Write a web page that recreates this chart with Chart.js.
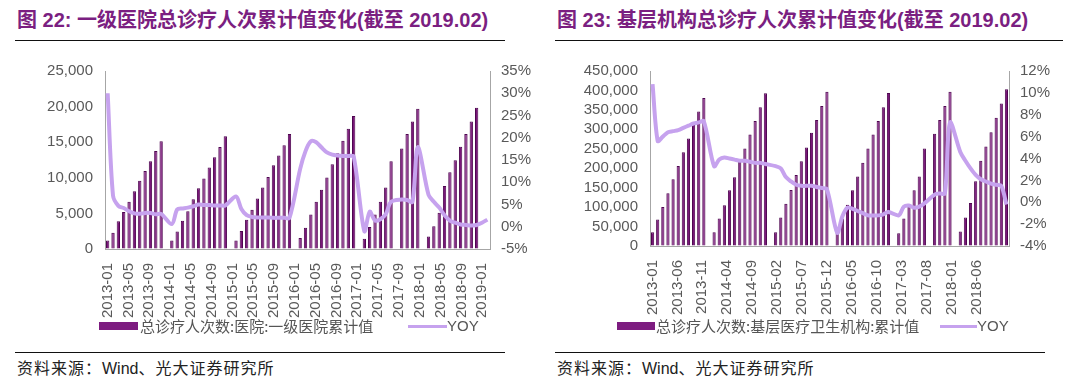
<!DOCTYPE html>
<html>
<head>
<meta charset="utf-8">
<script src="https://cdn.jsdelivr.net/npm/chart.js@4.4.1/dist/chart.umd.min.js"></script>
<style>
body { margin: 0; background: #fff; }
#page { position: relative; width: 1078px; height: 387px; overflow: hidden; font-family: "Noto Sans CJK SC", sans-serif; }
.title { position: absolute; top: 6px; line-height: 28px; font-size: 20px; font-weight: 700; color: #7B1F81; white-space: nowrap; font-family: "Liberation Sans", "Noto Sans CJK SC", sans-serif; }
.rule { position: absolute; height: 1px; background: #111; }
.source { position: absolute; top: 356px; line-height: 22px; font-size: 16px; color: #222; white-space: nowrap; letter-spacing: 1px; }
.source b { font-family: "Liberation Sans", sans-serif; font-weight: 400; letter-spacing: 0; }
.lg { position: absolute; top: 315px; line-height: 22px; font-size: 15px; color: #555; white-space: nowrap; }
.yoy { font-family: "Liberation Sans", sans-serif; }
.box { position: absolute; top: 322px; height: 8px; background: #7D1C80; }
.ln { position: absolute; top: 325px; height: 3px; background: #C6A2EE; }
canvas { position: absolute; top: 50px; }
</style>
</head>
<body>
<div id="page">
  <div class="title" style="left:17px">图 22: 一级医院总诊疗人次累计值变化(截至 2019.02)</div>
  <div class="rule" style="left:15px; top:40px; width:490px"></div>
  <div class="title" style="left:557px">图 23: 基层机构总诊疗人次累计值变化(截至 2019.02)</div>
  <div class="rule" style="left:555px; top:40px; width:508px"></div>

  <canvas id="chartHospital" width="540" height="270" style="left:0px"></canvas>
  <canvas id="chartPrimary" width="538" height="270" style="left:540px"></canvas>

  <div class="box" style="left:99px; width:39px"></div>
  <div class="lg" style="left:140px">总诊疗人次数:医院:一级医院累计值</div>
  <div class="ln" style="left:408px; width:39px"></div>
  <div class="lg yoy" style="left:447px">YOY</div>

  <div class="box" style="left:617px; width:38px"></div>
  <div class="lg" style="left:656px">总诊疗人次数:基层医疗卫生机构:累计值</div>
  <div class="ln" style="left:940px; width:37px"></div>
  <div class="lg yoy" style="left:977px">YOY</div>

  <div class="rule" style="left:15px; top:352px; width:490px"></div>
  <div class="source" style="left:17px">资料来源：<b>Wind</b>、光大证券研究所</div>
  <div class="rule" style="left:555px; top:352px; width:490px"></div>
  <div class="source" style="left:557px">资料来源：<b>Wind</b>、光大证券研究所</div>
</div>

<script>
// monthly categories, 2013-01 onwards
function monthList(startYear, count) {
    var out = [];
    for (var i = 0; i < count; i++) {
        var y = startYear + Math.floor(i / 12);
        var m = (i % 12) + 1;
        out.push(y + '-' + (m < 10 ? '0' + m : m));
    }
    return out;
}

// chart 22: 一级医院 (bars on 2013-01..2018-12, axis labels on 2013-01..2019-02)
var hospitalMonths = monthList(2013, 72);
var hospitalTickMonths = monthList(2013, 74);
var hospitalVisits = [
    1200, 2270, 3880, 5210, 6640, 8110, 9590, 10960, 12340, 13770, 15150, null,
    1200, 2450, 3970, 5310, 6990, 8520, 9890, 11460, 12880, 14310, 15820, null,
    1200, 2540, 4100, 5520, 7090, 8650, 10120, 11770, 13140, 14570, 16140, null,
    1560, 2980, 4850, 6640, 8330, 10030, 11900, 13460, 15200, 16890, 18680, null,
    1430, 3080, 4850, 6650, 8650, 12340, null, 14130, 16140, 17920, 19690, null,
    1740, 3210, 5080, 8860, 10790, 12470, 14350, 16140, 17920, 19830, null, null
];
var hospitalYoy = [
    30.0, 7.0, 4.7, 4.2, 3.5, 3.0, 2.9, 3.1, 3.1, 2.8, 2.9, null,
    0.6, 3.9, 4.1, 4.3, 4.6, 5.0, 4.9, 4.9, 4.8, 4.8, 4.8, null,
    6.8, 4.0, 2.6, 2.2, 2.1, 2.1, 2.1, 2.0, 2.0, 2.0, 2.0, null,
    13.0, 17.0, 19.2, 19.0, 17.8, 16.7, 16.2, 16.0, 15.9, 15.9, 15.8, null,
    -1.0, 3.4, 1.4, 1.7, 2.8, 5.6, null, 6.1, 6.0, 5.6, 17.9, null,
    7.2, 5.6, 4.3, 2.6, 1.4, 0.9, 0.5, 0.4, 0.3, 0.4, 0.9, 1.6
];

// chart 23: 基层医疗卫生机构 (bars on 2013-01..2018-10, axis labels on 2013-01..2018-12)
var primaryMonths = monthList(2013, 70);
var primaryTickMonths = monthList(2013, 72);
var primaryVisits = [
    35100, 68000, 100600, 135700, 171800, 205400, 241300, 276600, 311000, 346100, 380500, null,
    35100, 70400, 104800, 143100, 176700, 216700, 250400, 286500, 321600, 356600, 392700, null,
    35100, 73600, 108700, 144000, 182400, 217700, 253600, 291400, 324000, 360000, 396900, null,
    36000, 71000, 106300, 143100, 178500, 214300, 250400, 286500, 321600, 356600, 393500, null,
    32600, 70400, 104800, 143100, 178500, 250400, null, 288900, 324000, 360000, 396900, null,
    37600, 73600, 110500, 166200, 219200, 256000, 292800, 329700, 366500, 403300
];
var primaryYoy = [
    10.8, 5.6, 6.0, 6.4, 6.5, 6.6, 6.8, 7.0, 7.2, 7.3, 7.4, null,
    3.3, 3.9, 4.1, 4.0, 3.9, 3.8, 3.8, 3.7, 3.6, 3.6, 3.5, null,
    3.3, 3.1, 2.3, 1.9, 1.6, 1.5, 1.5, 1.5, 1.4, 1.3, 1.2, null,
    -2.8, -1.3, -0.5, -0.6, -0.8, -1.0, -1.2, -1.2, -1.2, -1.1, -0.9, null,
    -1.2, -0.4, -0.3, -0.5, -0.4, -0.1, null, 0.7, 0.8, 0.8, 7.3, null,
    4.6, 3.8, 3.1, 2.5, 2.1, 1.9, 1.7, 1.6, 1.5, -0.2
];

var barFill = '#7A1679';
var barEdge = '#4E0650';
var lineColor = '#C6A2EE';
var axisColor = '#A6A6A6';
var tickColor = '#595959';
var tickFont = { family: 'Liberation Sans', size: 15 };

function buildChart(canvasId, o) {
    var ctx = document.getElementById(canvasId).getContext('2d');
    return new Chart(ctx, {
        type: 'bar',
        data: {
            labels: o.months,
            datasets: [
                {
                    type: 'line',
                    label: 'YOY',
                    data: o.yoy,
                    xAxisID: 'x',
                    yAxisID: 'y1',
                    borderColor: lineColor,
                    borderWidth: 4,
                    pointRadius: 0,
                    tension: 0.3,
                    spanGaps: true,
                    order: 0
                },
                {
                    type: 'bar',
                    label: o.barLabel,
                    data: o.values,
                    xAxisID: 'x',
                    yAxisID: 'y',
                    backgroundColor: barFill,
                    borderColor: barEdge,
                    borderWidth: 1,
                    barPercentage: 0.62,
                    categoryPercentage: 1,
                    order: 1
                }
            ]
        },
        options: {
            responsive: false,
            animation: false,
            layout: { padding: { top: o.padTop, left: 0, right: 0, bottom: 0 } },
            plugins: { legend: { display: false }, tooltip: { enabled: false } },
            scales: {
                x: { type: 'category', display: false, offset: true },
                xTicks: {
                    type: 'category',
                    labels: o.tickMonths,
                    position: 'bottom',
                    offset: true,
                    grid: { display: false },
                    border: { color: axisColor },
                    afterFit: function (s) { s.height = o.xHeight; },
                    ticks: {
                        autoSkip: false,
                        minRotation: 90,
                        maxRotation: 90,
                        padding: 6,
                        font: tickFont,
                        color: tickColor,
                        callback: function (value, index) {
                            return (index % o.tickEvery === 0 && index <= o.lastTick) ? this.getLabelForValue(value) : '';
                        }
                    }
                },
                y: {
                    position: 'left',
                    min: 0,
                    max: o.yMax,
                    afterFit: function (s) { s.width = o.leftWidth; },
                    grid: { drawOnChartArea: false, drawTicks: false },
                    border: { color: axisColor },
                    ticks: {
                        autoSkip: false,
                        stepSize: o.yStep,
                        padding: 12,
                        font: tickFont,
                        color: tickColor,
                        callback: function (v) { return v.toLocaleString('en-US'); }
                    }
                },
                y1: {
                    position: 'right',
                    min: o.pctMin,
                    max: o.pctMax,
                    afterFit: function (s) { s.width = o.rightWidth; },
                    grid: { drawOnChartArea: false, drawTicks: false },
                    border: { color: axisColor },
                    ticks: {
                        autoSkip: false,
                        stepSize: o.pctStep,
                        padding: 11,
                        font: tickFont,
                        color: tickColor,
                        callback: function (v) { return v + '%'; }
                    }
                }
            }
        }
    });
}

var hospitalChart = buildChart('chartHospital', {
    months: hospitalMonths, tickMonths: hospitalTickMonths,
    values: hospitalVisits, yoy: hospitalYoy,
    barLabel: '总诊疗人次数:医院:一级医院累计值',
    yMax: 25000, yStep: 5000, pctMin: -5, pctMax: 35, pctStep: 5,
    tickEvery: 4, lastTick: 72,
    leftWidth: 105, rightWidth: 50, padTop: 12, xHeight: 71
});

var primaryChart = buildChart('chartPrimary', {
    months: primaryMonths, tickMonths: primaryTickMonths,
    values: primaryVisits, yoy: primaryYoy,
    barLabel: '总诊疗人次数:基层医疗卫生机构:累计值',
    yMax: 450000, yStep: 50000, pctMin: -4, pctMax: 12, pctStep: 2,
    tickEvery: 5, lastTick: 65,
    leftWidth: 110, rightWidth: 69, padTop: 13, xHeight: 74
});
</script>
</body>
</html>
